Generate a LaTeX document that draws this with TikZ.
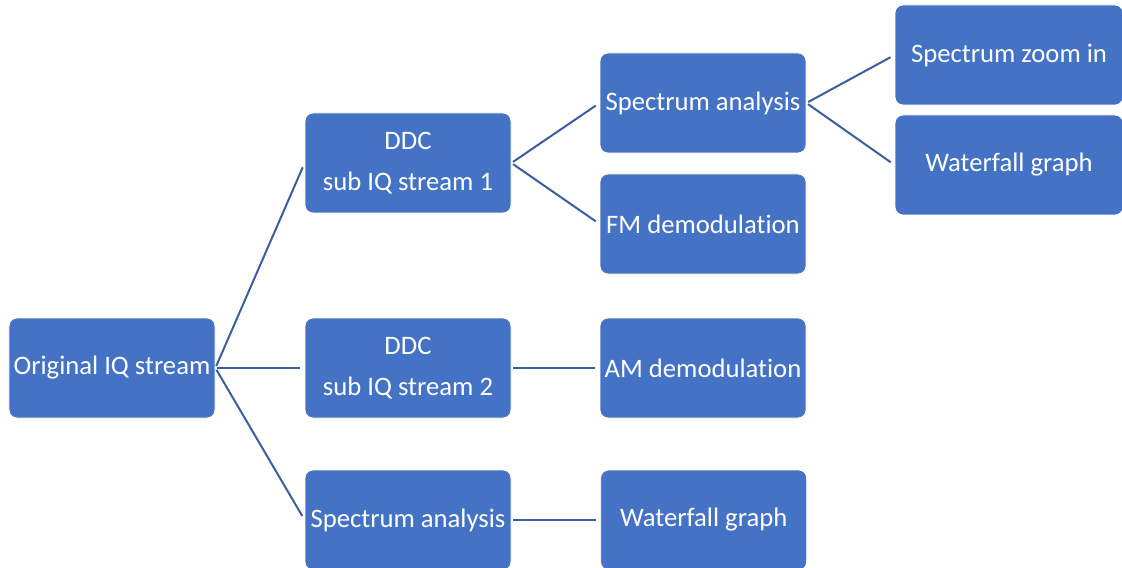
\documentclass[tikz,border=0pt]{standalone}
\usepackage{fontspec}
\setmainfont[Ligatures=NoCommon]{Carlito}
\usetikzlibrary{positioning}

\definecolor{boxblue}{HTML}{4472C4}
\definecolor{linkblue}{HTML}{3B5EA0}

\tikzset{
  box/.style={rectangle, rounded corners=6pt, fill=boxblue, draw=white, line width=0.6pt,
    text=white, align=center, minimum width=154.5pt, minimum height=75pt,
    font=\fontsize{20}{30.75}\selectfont},
  widebox/.style={box, minimum width=171pt},
  link/.style={draw=linkblue, line width=1.5pt, shorten <=1.5pt, shorten >=3.5pt}
}

\begin{document}
\begin{tikzpicture}[on grid]
  \useasboundingbox (-84pt,276pt) rectangle (757.5pt,-150pt);
  \node[box] (orig) at (0,0) {Original IQ stream};
  \node[box] (ddc_1) [above right=153.75pt and 222pt of orig] {DDC\\sub IQ stream 1};
  \node[box] (ddc_2) [right=222pt of orig] {DDC\\sub IQ stream 2};
  \node[box] (spec_0) [below right=114pt and 222pt of orig] {Spectrum analysis};
  \node[box] (spec_1) [above right=45pt and 221.25pt of ddc_1] {Spectrum analysis};
  \node[box] (fm) [below right=45.75pt and 221.25pt of ddc_1] {FM demodulation};
  \node[box] (am) [right=221.25pt of ddc_2] {AM demodulation};
  \node[box] (wf_0) [right=221.75pt of spec_0] {Waterfall graph};
  \node[widebox] (zoom) [above right=36pt and 229.5pt of spec_1] {Spectrum zoom in};
  \node[widebox] (wf_1) [below right=46.5pt and 229.5pt of spec_1] {Waterfall graph};
  \path[link]
    (orig.east) edge (ddc_1.west)
                edge (ddc_2.west)
                edge (spec_0.west)
    (ddc_1.east) edge (spec_1.west)
                 edge (fm.west)
    (ddc_2.east) edge (am.west)
    (spec_0.east) edge (wf_0.west)
    (spec_1.east) edge (zoom.west)
                  edge (wf_1.west);
\end{tikzpicture}
\end{document}
